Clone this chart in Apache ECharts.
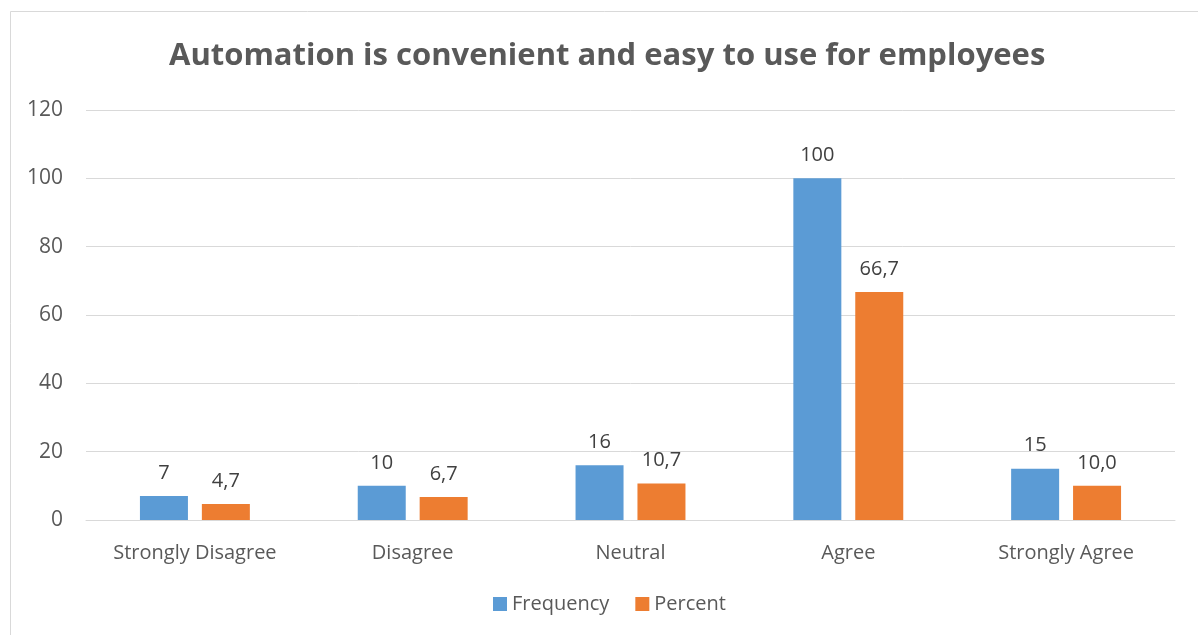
<!DOCTYPE html>
<html>
<head>
<meta charset="utf-8">
<style>
  html, body { margin: 0; padding: 0; background: #ffffff; }
  #chart { width: 1198px; height: 635px; }
</style>
<script src="https://cdn.jsdelivr.net/npm/echarts@6/dist/echarts.min.js"></script>
</head>
<body>
<div id="chart"></div>
<script>
// Survey responses: "Automation is convenient and easy to use for employees"
const categories = ['Strongly Disagree', 'Disagree', 'Neutral', 'Agree', 'Strongly Agree'];
const frequency = [7, 10, 16, 100, 15];
const percent = [4.7, 6.7, 10.7, 66.7, 10.0];
const yTicks = { min: 0, max: 120, interval: 20 };

const FONT = '"Open Sans", "Liberation Sans", sans-serif';

// Comma decimal separator for the percentage labels
function commaDecimal(v) {
  return v.toFixed(1).replace('.', ',');
}

const chart = echarts.init(document.getElementById('chart'), null, { renderer: 'canvas' });

chart.setOption({
  backgroundColor: '#ffffff',
  animation: false,
  textStyle: { fontFamily: FONT },
  graphic: [{
    type: 'rect',
    silent: true,
    shape: { x: 10.5, y: 11.5, width: 1200, height: 640 },
    style: { fill: 'none', stroke: '#d9d9d9', lineWidth: 1 }
  }],
  title: {
    text: 'Automation is convenient and easy to use for employees',
    left: 164,
    top: 36,
    textStyle: { fontFamily: FONT, fontSize: 31, fontWeight: 'bold', color: '#595959' }
  },
  legend: {
    data: ['Frequency', 'Percent'],
    bottom: 16,
    left: 488,
    itemWidth: 14,
    itemHeight: 14,
    itemGap: 26,
    icon: 'rect',
    textStyle: { fontFamily: FONT, fontSize: 20, color: '#595959' }
  },
  grid: { left: 86, right: 23, top: 110, bottom: 115, containLabel: false },
  xAxis: {
    type: 'category',
    data: categories,
    axisLine: { show: true, lineStyle: { color: '#d9d9d9', width: 1 } },
    axisTick: { show: false },
    axisLabel: { fontFamily: FONT, fontSize: 20, color: '#595959', margin: 23 }
  },
  yAxis: {
    type: 'value',
    min: yTicks.min,
    max: yTicks.max,
    interval: yTicks.interval,
    axisLine: { show: false },
    axisTick: { show: false },
    axisLabel: { fontFamily: FONT, fontSize: 21, color: '#595959', margin: 23 },
    splitLine: { lineStyle: { color: '#d9d9d9', width: 1 } }
  },
  series: [
    {
      name: 'Frequency',
      type: 'bar',
      data: frequency,
      barWidth: 48,
      barGap: '29%',
      itemStyle: { color: '#5b9bd5' },
      label: {
        show: true,
        position: 'top',
        distance: 13,
        fontFamily: FONT,
        fontSize: 20,
        color: '#404040'
      }
    },
    {
      name: 'Percent',
      type: 'bar',
      data: percent,
      barWidth: 48,
      itemStyle: { color: '#ed7d31' },
      label: {
        show: true,
        position: 'top',
        distance: 13,
        fontFamily: FONT,
        fontSize: 20,
        color: '#404040',
        formatter: p => commaDecimal(p.value)
      }
    }
  ]
});
</script>
</body>
</html>
